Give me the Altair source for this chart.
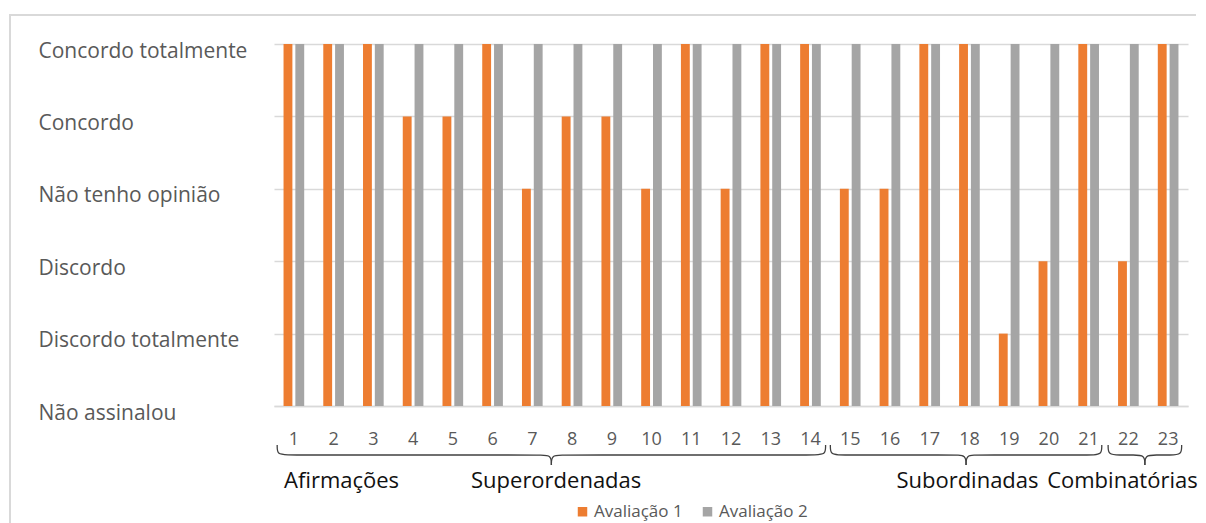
import altair as alt
import pandas as pd

# ---------------- data ----------------
items = ["1", "2", "3", "4", "5", "6", "7", "8", "9", "10", "11", "12",
         "13", "14", "15", "16", "17", "18", "19", "20", "21", "22", "23"]
series_names = ["Avaliação 1", "Avaliação 2"]
aval1 = [5, 5, 5, 4, 4, 5, 3, 4, 4, 3, 5, 3, 5, 5, 3, 3, 5, 5, 1, 2, 5, 2, 5]
aval2 = [5, 5, 5, 5, 5, 5, 5, 5, 5, 5, 5, 5, 5, 5, 5, 5, 5, 5, 5, 5, 5, 5, 5]
level_labels = ["Não assinalou", "Discordo totalmente", "Discordo",
                "Não tenho opinião", "Concordo", "Concordo totalmente"]

# braces (in item units) and group labels
brace_start = [0.58, 14.5, 21.49]
brace_end = [14.38, 21.33, 23.34]
group_names = ["Afirmações", "Superordenadas", "Subordinadas", "Combinatórias"]
group_pos = [2.2, 7.6, 17.95, 21.85]

# ---------------- tables ----------------
rows = []
for i, it in enumerate(items):
    rows.append({"item": it, "series": series_names[0], "value": aval1[i]})
    rows.append({"item": it, "series": series_names[1], "value": aval2[i]})
df = pd.DataFrame(rows)

brace_rows = []
for b, (a, e) in enumerate(zip(brace_start, brace_end)):
    m = (a + e) / 2
    r = 0.28
    left = [(a, 0), (a, 0.5), (a + r, 0.5), (m - r, 0.5), (m, 0.5), (m, 1)]
    right = [(e, 0), (e, 0.5), (e - r, 0.5), (m + r, 0.5), (m, 0.5), (m, 1)]
    for side, pts in (("L", left), ("R", right)):
        for k, (x, y) in enumerate(pts):
            brace_rows.append({"seg": f"{b}{side}", "k": k, "u": x, "v": y})
braces_df = pd.DataFrame(brace_rows)

groups_df = pd.DataFrame({"name": group_names, "u": group_pos})

W, H = 914, 362
FONT = "Open Sans"
GREY_TXT = "#595959"
GRID = "#D9D9D9"

label_expr = "[" + ",".join(f"'{s}'" for s in level_labels) + "][datum.value]"

bars = alt.Chart(df).mark_bar().encode(
    x=alt.X("item:N", sort=items,
            scale=alt.Scale(paddingInner=0.48, paddingOuter=0.24),
            axis=alt.Axis(title=None, labelAngle=0, ticks=False, domain=True,
                          domainColor=GRID, domainWidth=1.5,
                          labelFontSize=18, labelColor=GREY_TXT, labelFont=FONT,
                          labelPadding=24)),
    xOffset=alt.XOffset("series:N", sort=series_names,
                        scale=alt.Scale(paddingInner=0.25, paddingOuter=0)),
    y=alt.Y("value:Q", scale=alt.Scale(domain=[0, 5], nice=False),
            axis=alt.Axis(title=None, values=[0, 1, 2, 3, 4, 5], labelExpr=label_expr,
                          grid=True, gridColor=GRID, gridWidth=1.5, domain=False, ticks=False,
                          labelAlign="left", labelBaseline="middle", labelPadding=236,
                          labelOffset=7, labelFontSize=21, labelColor=GREY_TXT,
                          labelFont=FONT, labelLimit=300)),
    color=alt.Color("series:N", sort=series_names,
                    scale=alt.Scale(domain=series_names, range=["#ED7D31", "#A5A5A5"]),
                    legend=alt.Legend(title=None, orient="none", direction="horizontal",
                                      legendX=300, legendY=459, symbolType="square",
                                      symbolSize=90, symbolStrokeWidth=0,
                                      labelFontSize=17, labelColor=GREY_TXT, labelFont=FONT,
                                      labelOffset=3, columnPadding=16)),
)

bx = alt.X("u:Q", scale=alt.Scale(domain=[0.5, 23.5], nice=False, zero=False), axis=None)

braces = alt.Chart(braces_df).mark_line(interpolate="basis", color="#404040",
                                         strokeWidth=1.3, clip=False).encode(
    x=bx,
    y=alt.Y("v:Q", scale=alt.Scale(domain=[0, 1], range=[401, 421], nice=False, zero=False),
            axis=None),
    detail="seg:N",
    order="k:Q",
)

texts = alt.Chart(groups_df).mark_text(fontSize=22, font=FONT, color="#111111",
                                        baseline="middle", align="center").encode(
    x=bx,
    y=alt.value(437),
    text="name:N",
)

one = pd.DataFrame({"a": [0]})
frame_top = alt.Chart(one).mark_rule(color=GRID, strokeWidth=2).encode(
    x=alt.value(-264), x2=alt.value(922), y=alt.value(-29))
frame_left = alt.Chart(one).mark_rule(color=GRID, strokeWidth=2).encode(
    x=alt.value(-264), y=alt.value(-30), y2=alt.value(480))

chart = alt.layer(frame_top, frame_left, bars, braces, texts).resolve_scale(
    x="independent", y="independent"
).properties(
    width=W, height=H,
    autosize=alt.AutoSizeParams(type="none"),
    padding={"left": 266, "top": 36, "right": 10, "bottom": 117},
    background="white",
).configure_view(stroke=None)

chart.save("out.html", embed_options={"renderer": "svg", "actions": False})
